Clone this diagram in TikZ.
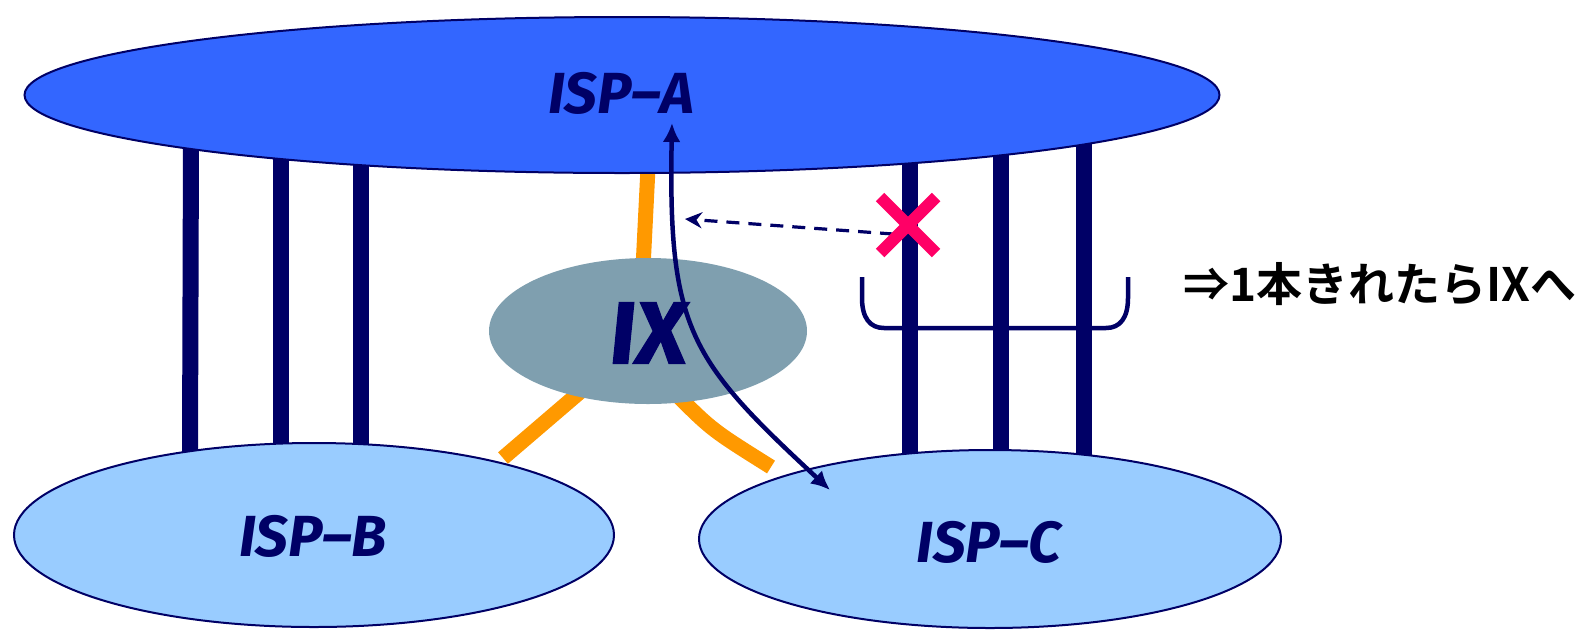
\documentclass[tikz,border=0pt]{standalone}
\usepackage{fontspec}
\setmainfont{Fira Sans}
\newfontfamily\jpfont{Noto Sans CJK JP}[BoldFont={Noto Sans CJK JP Bold}]
\newfontfamily\ixfont{Fira Sans}[FakeSlant=0.1,FakeBold=1.5]
\usetikzlibrary{shapes.geometric,arrows.meta,calc}
\definecolor{navy}{HTML}{000066}
\definecolor{ispa}{HTML}{3366FF}
\definecolor{ispbc}{HTML}{99CCFF}
\definecolor{ixfill}{HTML}{7F9FAF}
\definecolor{orangeln}{HTML}{FF9900}
\definecolor{redx}{HTML}{FF0066}
\tikzset{
  isp/.style={ellipse, draw=navy, line width=2pt, inner sep=0pt},
  lbl/.style={text=navy, font=\fontsize{58}{60}\selectfont\bfseries\itshape},
  link/.style={draw=navy, line width=16pt},
  ixlink/.style={draw=orangeln, line width=15pt},
  route/.style={draw=navy, line width=4.5pt, {Latex[length=19pt,width=18pt]}-{Latex[length=19pt,width=18pt]}},
  detour/.style={draw=navy, line width=3.2pt, dash pattern=on 13pt off 9pt, -{Stealth[length=17pt,width=16pt]}},
  cross/.style={draw=redx, line width=12pt},
  bracketln/.style={draw=navy, line width=4.5pt},
}
\begin{document}
\begin{tikzpicture}[x=1pt,y=-1pt]
\useasboundingbox (0,0) rectangle (1587,630);
% parallel links
\draw[link] (191,140) -- (190,452);
\draw[link] (281,150) -- (281,446);
\draw[link] (361,155) -- (361,446);
\draw[link] (910,150) -- (910,458);
\draw[link] (1001,150) -- (1001,458);
\draw[link] (1084,140) -- (1084,458);
% IX links
\draw[ixlink] (648,168) -- (643,268);
\draw[ixlink] (580,392) -- (503,458);
\draw[ixlink] (676,394) .. controls (712,430) .. (771,467);
% ISPs
\node[isp, fill=ispa, minimum width=1195pt, minimum height=156pt] (ispA) at (622,95) {};
\node[isp, fill=ispbc, minimum width=600pt, minimum height=184pt] (ispB) at (314,535) {};
\node[isp, fill=ispbc, minimum width=582pt, minimum height=178pt] (ispC) at (990,539) {};
\node[ellipse, fill=ixfill, inner sep=0pt, minimum width=318pt, minimum height=146pt] (ix) at (648,331) {};
% labels
\node[lbl] (la) at (621,93) {ISP–A};
\node[lbl] (lb) at (313,536) {ISP–B};
\node[lbl] (lc) at (989,542) {ISP–C};
\node[text=navy, font=\ixfont\bfseries\fontsize{88}{90}\selectfont] (lix) at (646,333) {IX};
% route through IX
\coordinate (rtop) at (672,123);
\coordinate (rbot) at (830,490);
\draw[route] (rtop) .. controls (668,330) and (690,360) .. (rbot);
% cut link and detour
\coordinate (dstart) at (893,234);
\coordinate (dend) at (685,219);
\draw[detour] (dstart) -- (dend);
\coordinate (xc) at (908,225);
\draw[cross] ($(xc)+(-28,-28)$) -- ($(xc)+(28,28)$);
\draw[cross] ($(xc)+(28,-28)$) -- ($(xc)+(-28,28)$);
% bracket
\draw[bracketln] (862,277) -- (862,298) .. controls (862,318) and (870,328) .. (884,328) -- (1106,328) .. controls (1120,328) and (1128,318) .. (1128,298) -- (1128,277);
\node[anchor=west, inner sep=0pt, font=\jpfont\bfseries\fontsize{46}{48}\selectfont] (note) at (1183,284) {⇒1本きれたらIXへ};
\end{tikzpicture}
\end{document}
